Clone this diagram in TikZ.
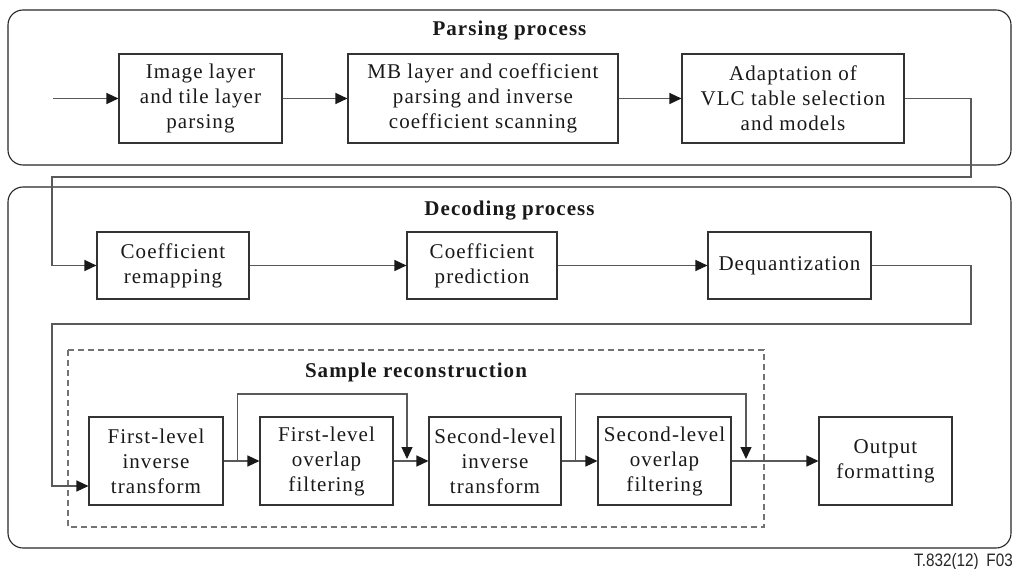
\documentclass[tikz,border=0pt]{standalone}
\usepackage{fontspec}
\setmainfont{Liberation Serif}[LetterSpace=5]
\newfontfamily\labelfont{Liberation Sans}
\usetikzlibrary{arrows.meta}
\begin{document}
\begin{tikzpicture}[x=1pt,y=-1pt,
  box/.style={draw=black!80, line width=1.1pt, align=center, inner sep=0pt,
    font=\fontsize{21}{25}\selectfont, text=black!90},
  container/.style={draw=black!85, line width=1.1pt, rounded corners=15pt},
  dashbox/.style={draw=black!55, line width=1.1pt, dash pattern=on 6pt off 4pt},
  conn/.style={draw=black!65, line width=1.3pt},
  arr/.style={conn, -{Triangle[length=12pt,width=11pt,color=black!90]}},
  title/.style={font=\bfseries\fontsize{21}{25}\selectfont, text=black!90, inner sep=0pt}]
\useasboundingbox (0,0) rectangle (1016,569);

% containers
\draw[container] (8,10) rectangle (1011,165);
\draw[container] (8,187) rectangle (1011,548);
\draw[dashbox] (68,350) rectangle (764,527);

\node[title] (tparse) at (509.5,31) {Parsing process};
\node[title] (tdec) at (509.5,211) {Decoding process};
\node[title] (tsamp) at (416,372) {Sample reconstruction};

% top row
\node[box, minimum width=163pt, minimum height=89pt] (img) at (200.5,98.5) {Image layer\\and tile layer\\parsing};
\node[box, minimum width=270pt, minimum height=89pt] (mb) at (483,98.5) {MB layer and coefficient\\parsing and inverse\\coefficient scanning};
\node[box, minimum width=222pt, minimum height=89pt] (ada) at (793,98.5) {Adaptation of\\VLC table selection\\and models};

% second row
\node[box, minimum width=152pt, minimum height=67pt] (remap) at (173,265.5) {Coefficient\\remapping};
\node[box, minimum width=150pt, minimum height=67pt] (pred) at (482,265.5) {Coefficient\\prediction};
\node[box, minimum width=163pt, minimum height=67pt] (deq) at (789.5,265.5) {Dequantization};

% third row
\node[box, minimum width=134pt, minimum height=88pt] (fi) at (156,461) {First-level\\inverse\\transform};
\node[box, minimum width=133pt, minimum height=88pt] (fo) at (326.5,461) {First-level\\overlap\\filtering};
\node[box, minimum width=132pt, minimum height=88pt] (si) at (495,461) {Second-level\\inverse\\transform};
\node[box, minimum width=133pt, minimum height=88pt] (so) at (664.5,461) {Second-level\\overlap\\filtering};
\node[box, minimum width=133pt, minimum height=88pt] (out) at (885.5,461) {Output\\formatting};

\node[anchor=base east, inner sep=0pt, font=\labelfont\fontsize{18}{20}\selectfont, text=black!85] (code) at (1013,566) {\scalebox{0.85}[1]{T.832(12)\hspace{9pt}F03}};

% connectors
\coordinate (in) at (53,98.5);
\draw[arr] (in) -- (img.west);
\draw[arr] (img.east) -- (mb.west);
\draw[arr] (mb.east) -- (ada.west);
\draw[arr] (ada.east) -| (971,177) -- (52,177) |- (remap.west);
\draw[arr] (remap.east) -- (pred.west);
\draw[arr] (pred.east) -- (deq.west);
\draw[arr] (deq.east) -| (971,324) -- (52,324) |- ([yshift=-25pt]fi.west);
\draw[arr] (fi.east) -- (fo.west);
\draw[arr] (fo.east) -- (si.west);
\draw[arr] (si.east) -- (so.west);
\draw[arr] (so.east) -- (out.west);
\coordinate (t1) at (407,394);
\coordinate (m1) at (407,459);
\coordinate (t2) at (746,394);
\coordinate (m2) at (746,459);
\draw[arr] ([xshift=14pt]fi.east) |- (t1) -- (m1);
\draw[arr] ([xshift=14pt]si.east) |- (t2) -- (m2);
\end{tikzpicture}
\end{document}
